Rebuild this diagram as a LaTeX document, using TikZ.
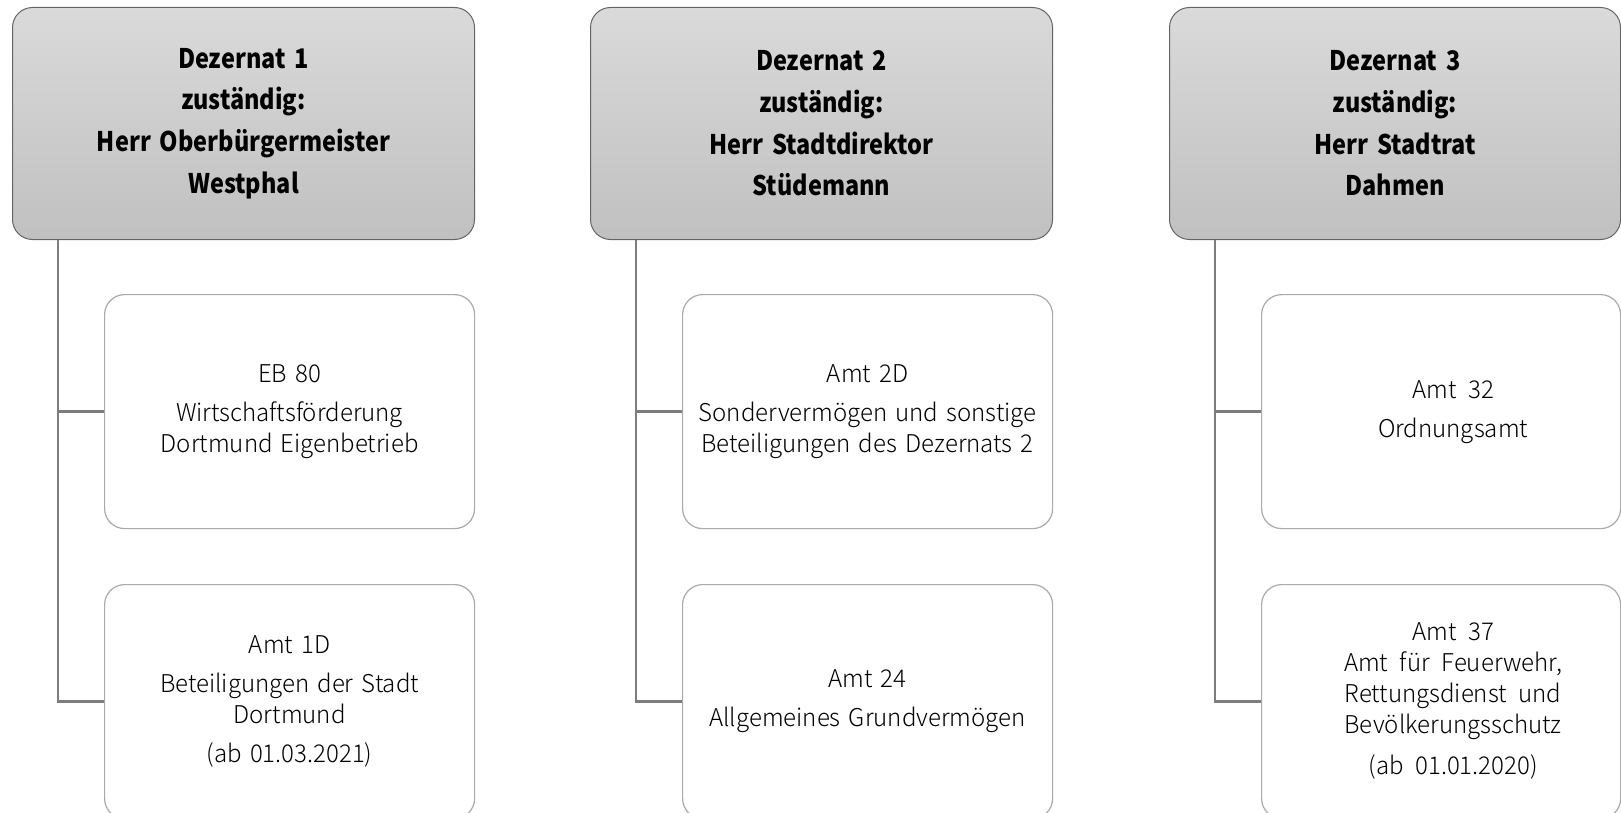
\documentclass[tikz,border=0pt]{standalone}
\usepackage{fontspec}
\IfFontExistsTF{Noto Sans CJK KR Light}
  {\setmainfont{Noto Sans CJK KR Light}[WordSpace=2.2, FakeStretch=0.98]}
  {\setmainfont{Noto Sans CJK KR}[WordSpace=2.2, FakeStretch=0.98]}
\newfontfamily\hdrfont{Noto Sans CJK KR}[WordSpace=1.9, FakeStretch=0.87]
\definecolor{hdrTop}{RGB}{218,218,218}
\definecolor{hdrBot}{RGB}{192,192,192}
\definecolor{hdrBorder}{RGB}{100,100,100}
\definecolor{unitBorder}{RGB}{170,170,170}
\definecolor{connGray}{RGB}{125,125,125}
\begin{document}
\begin{tikzpicture}[x=1pt,y=-1pt,
  hdr/.style={draw=hdrBorder, line width=1pt, rounded corners=20pt,
    top color=hdrTop, bottom color=hdrBot, minimum width=462pt,
    minimum height=232pt, anchor=north west, inner sep=0pt, align=center,
    text width=440pt, font=\hdrfont\bfseries\fontsize{27}{41.7}\selectfont},
  unitbox/.style={draw=unitBorder, line width=1.2pt, rounded corners=20pt,
    fill=white, minimum width=370pt, minimum height=234pt, anchor=north west,
    inner sep=0pt, font=\fontsize{24.5}{31}\selectfont},
  unit/.style={unitbox, align=center, text width=360pt},
  conn/.style={draw=connGray, line width=2.6pt}]
\useasboundingbox (0,0) rectangle (1621,813);
\clip (0,0) rectangle (1621,813);
% headers
\node[hdr] (h1) at (12,7) {Dezernat 1\\zuständig:\\Herr Oberbürgermeister\\Westphal};
\node[hdr] (h2) at (590,7) {Dezernat 2\\zuständig:\\Herr Stadtdirektor\\Stüdemann};
\node[hdr, minimum width=451pt] (h3) at (1169,7) {Dezernat 3\\zuständig:\\Herr Stadtrat\\Dahmen};
% units column 1
\node[unit] (a1) at (104,294) {EB 80\\[8pt]Wirtschaftsförderung\\Dortmund Eigenbetrieb};
\node[unit] (a2) at (104,584) {Amt 1D\\[8pt]Beteiligungen der Stadt\\Dortmund\\[8pt](ab 01.03.2021)};
% units column 2
\node[unit] (b1) at (682,294) {Amt 2D\\[8pt]Sondervermögen und sonstige\\Beteiligungen des Dezernats 2};
\node[unit] (b2) at (682,584) {Amt 24\\[8pt]Allgemeines Grundvermögen};
% units column 3
\node[unitbox, minimum width=359pt] (c1) at (1261,294)
  {\hspace*{24pt}\begin{tabular}{@{}c@{}}Amt 32\\[8pt]Ordnungsamt\end{tabular}};
\node[unitbox, minimum width=359pt] (c2) at (1261,584)
  {\hspace*{24pt}\raisebox{6pt}{\begin{tabular}{@{}c@{}}Amt 37\\Amt für Feuerwehr,\\Rettungsdienst und\\Bevölkerungsschutz\\[10pt](ab 01.01.2020)\end{tabular}}};
% connectors
\draw[conn] ([xshift=46pt]h1.south west) |- (a1.west);
\draw[conn] ([xshift=46pt]h1.south west) |- (a2.west);
\draw[conn] ([xshift=46pt]h2.south west) |- (b1.west);
\draw[conn] ([xshift=46pt]h2.south west) |- (b2.west);
\draw[conn] ([xshift=46pt]h3.south west) |- (c1.west);
\draw[conn] ([xshift=46pt]h3.south west) |- (c2.west);
\end{tikzpicture}
\end{document}
